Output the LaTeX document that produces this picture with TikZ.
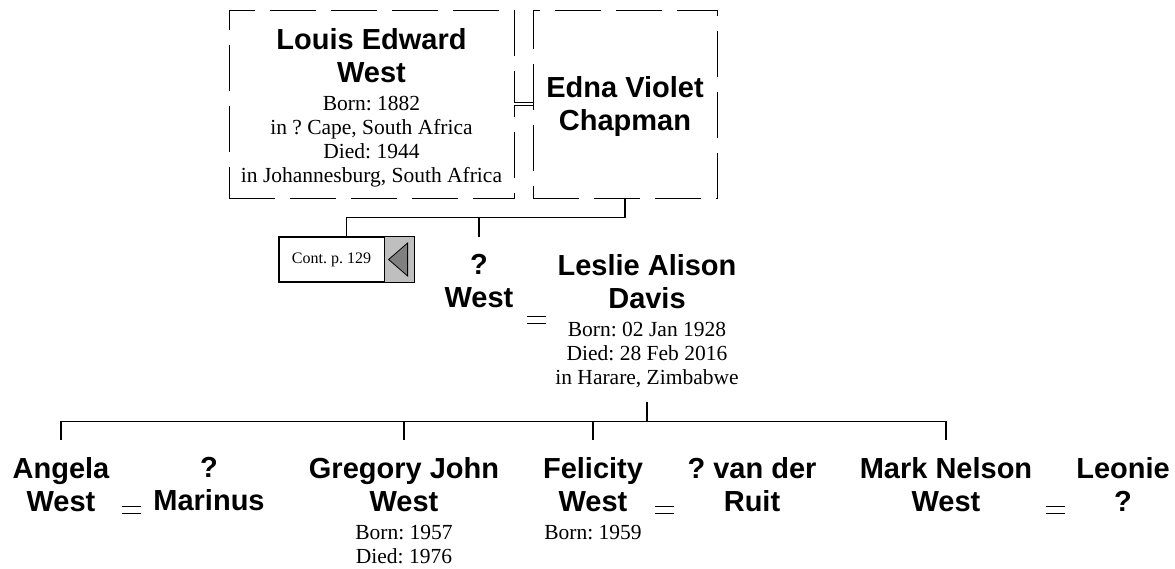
\documentclass[tikz,border=0pt]{standalone}
\usepackage{fontspec}
\setmainfont{Liberation Serif}
\setsansfont{Liberation Sans}
\usetikzlibrary{positioning}
\newcommand{\namefont}{\sffamily\bfseries\fontsize{29}{33.5}\selectfont}
\newcommand{\factfont}{\rmfamily\fontsize{21.5}{24}\selectfont}
\newcommand{\contfont}{\rmfamily\fontsize{16}{18}\selectfont}
\frenchspacing

\begin{document}
\begin{tikzpicture}[x=1pt,y=-1pt,
  person/.style={font=\namefont, align=center, inner sep=0pt, anchor=north},
  facts/.style={font=\factfont, align=center, inner sep=0pt},
  couplebox/.style={draw, line width=0.9pt, dash pattern=on 46pt off 15pt, inner sep=0pt, minimum height=188pt},
  link/.style={line width=1.3pt},
  wed/.style={double, line width=1pt, double distance=6pt}]
\useasboundingbox (0,0) rectangle (1175,568);

% parents
\node[couplebox, minimum width=285pt] (louisbox) at (371.5,104) {};
\node[couplebox, minimum width=184pt] (ednabox) at (625,104) {};
\node[person] (louis) at (371.5,28) {Louis Edward\\West};
\node[facts, below=12.5pt of louis] (louisfacts) {Born: 1882\\in ? Cape, South Africa\\Died: 1944\\in Johannesburg, South Africa};
\node[person] (edna) at (625,76) {Edna Violet\\Chapman};
\draw[wed, double distance=2.4pt] (louisbox) -- (ednabox);

% continued elsewhere
\node[draw, line width=1.2pt, minimum width=135pt, minimum height=45pt, inner sep=0pt] (contbox) at (346.5,259.5) {};
\filldraw[fill=gray!50, line width=1.2pt] ([xshift=-30pt]contbox.north east) rectangle (contbox.south east);
\filldraw[fill=gray, line width=0.8pt] ([xshift=-26pt]contbox.east) -- ([xshift=-7pt,yshift=16.5pt]contbox.east) -- ([xshift=-7pt,yshift=-16.5pt]contbox.east) -- cycle;
\node[font=\contfont] (conttext) at (331.5,259.5) {Cont. p. 129};

% middle generation
\node[person] (westq) at (479,254) {?\\West};
\node[person] (leslie) at (647,254) {Leslie Alison\\Davis};
\node[facts, below=13pt of leslie] (lesliefacts) {Born: 02 Jan 1928\\Died: 28 Feb 2016\\in Harare, Zimbabwe};

\draw[link] (ednabox.south) -- ++(0,19) coordinate (topbar) -| (contbox.north);
\draw[link] (topbar -| westq) -- ++(0,20);

% children
\node[person] (angela) at (61,457) {Angela\\West};
\node[person] (marinus) at (209,457) {?\\Marinus};
\node[person] (gregory) at (404,457) {Gregory John\\West};
\node[facts, below=12.5pt of gregory] (gregoryfacts) {Born: 1957\\Died: 1976};
\node[person] (felicity) at (593,457) {Felicity\\West};
\node[facts, below=12.5pt of felicity] (felicityfacts) {Born: 1959};
\node[person] (ruit) at (752,457) {? van der\\Ruit};
\node[person] (mark) at (946,457) {Mark Nelson\\West};
\node[person] (leonie) at (1123,457) {Leonie\\?};

\draw[link] ([yshift=-14pt]lesliefacts.south) -- ++(0,19) coordinate (kidbar);
\draw[link] (kidbar -| angela) -- (kidbar -| mark);
\foreach \kid in {angela,gregory,felicity,mark}
  \draw[link] (kidbar -| \kid) -- ++(0,19);

% marriages
\foreach \wx/\wy in {536/319.5, 131.5/509.5, 664/509.5, 1055/510}
  \draw[wed] (\wx-9.5,\wy) -- (\wx+9.5,\wy);
\end{tikzpicture}
\end{document}
